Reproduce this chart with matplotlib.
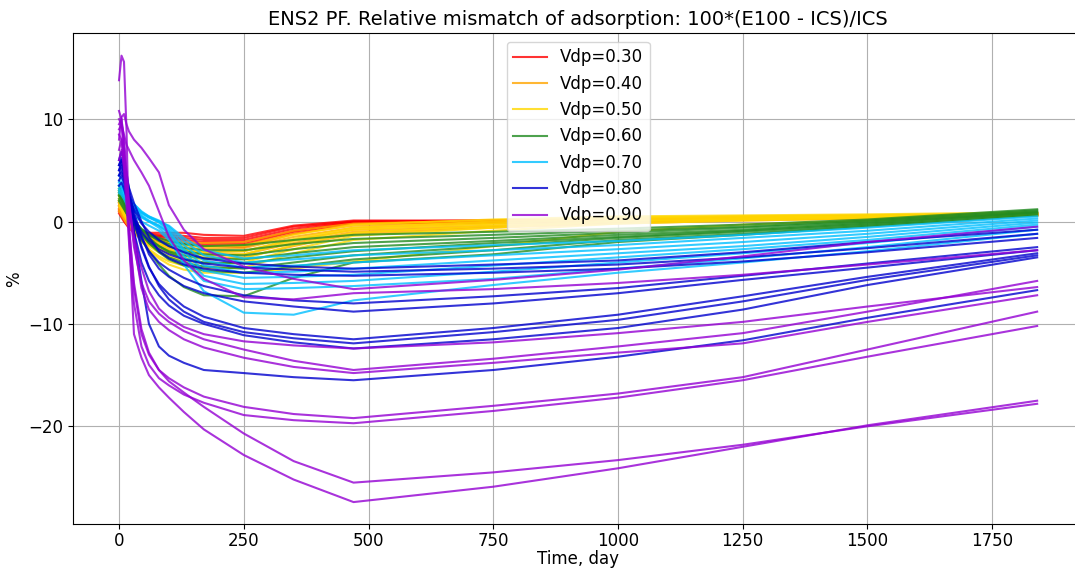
import matplotlib
matplotlib.use("Agg")
import matplotlib.pyplot as plt

# sample days shared by all curves
days = [0, 5, 10, 15, 20, 30, 45, 60, 80, 100, 130, 170, 250, 350, 470, 750, 1000, 1250, 1500, 1840]

vdp_030 = [
    [1.2, 0.7, 0.3, -0.1, -0.4, -0.8, -1.0, -1.1, -1.1, -1.1, -1.1, -1.3, -1.4, -0.4, 0.1, 0.1, 0.2, 0.4, 0.5, 0.8],
    [1.5, 0.9, 0.4, 0.0, -0.3, -0.8, -1.1, -1.2, -1.3, -1.3, -1.4, -1.6, -1.6, -0.5, 0.0, 0.1, 0.2, 0.3, 0.5, 0.8],
    [0.8, 0.4, 0.0, -0.3, -0.6, -1.0, -1.2, -1.3, -1.4, -1.5, -1.6, -1.8, -1.8, -0.7, 0.0, 0.0, 0.1, 0.3, 0.4, 0.7],
    [1.8, 1.1, 0.5, 0.0, -0.4, -0.9, -1.3, -1.4, -1.5, -1.6, -1.8, -2.0, -2.0, -0.9, -0.1, 0.0, 0.1, 0.2, 0.4, 0.7],
    [1.0, 0.6, 0.1, -0.3, -0.6, -1.1, -1.4, -1.6, -1.7, -1.8, -2.0, -2.2, -2.2, -1.0, -0.1, -0.1, 0.0, 0.2, 0.4, 0.6],
    [2.0, 1.2, 0.5, 0.0, -0.4, -1.0, -1.5, -1.7, -1.9, -2.0, -2.2, -2.4, -2.5, -1.2, -0.2, -0.1, 0.0, 0.2, 0.3, 0.6],
]
vdp_040 = [
    [1.5, 1.0, 0.5, 0.1, -0.3, -0.8, -1.3, -1.6, -1.8, -1.9, -2.0, -2.1, -2.0, -0.9, -0.2, 0.1, 0.3, 0.5, 0.6, 0.8],
    [2.0, 1.4, 0.8, 0.3, -0.1, -0.7, -1.3, -1.7, -2.0, -2.1, -2.3, -2.4, -2.3, -1.2, -0.4, -0.1, 0.2, 0.4, 0.5, 0.8],
    [1.0, 0.6, 0.2, -0.2, -0.5, -1.0, -1.5, -1.9, -2.2, -2.4, -2.5, -2.7, -2.6, -1.5, -0.6, -0.2, 0.1, 0.3, 0.5, 0.7],
    [2.5, 1.8, 1.1, 0.5, 0.0, -0.7, -1.4, -1.9, -2.3, -2.6, -2.8, -3.0, -2.9, -1.8, -0.8, -0.4, 0.0, 0.2, 0.4, 0.7],
    [1.8, 1.2, 0.6, 0.1, -0.3, -0.9, -1.6, -2.1, -2.5, -2.8, -3.0, -3.2, -3.2, -2.1, -1.0, -0.5, -0.1, 0.2, 0.4, 0.6],
    [1.2, 0.8, 0.3, -0.1, -0.5, -1.1, -1.8, -2.3, -2.7, -3.0, -3.3, -3.5, -3.5, -2.4, -1.2, -0.6, -0.2, 0.1, 0.3, 0.6],
]
vdp_050 = [
    [2.0, 1.5, 1.0, 0.5, 0.1, -0.5, -1.1, -1.5, -1.9, -2.1, -2.3, -2.5, -2.4, -1.3, -0.3, 0.2, 0.5, 0.6, 0.7, 0.9],
    [2.5, 1.9, 1.3, 0.7, 0.2, -0.5, -1.3, -1.8, -2.2, -2.5, -2.8, -3.0, -2.9, -1.7, -0.6, 0.0, 0.4, 0.5, 0.6, 0.8],
    [1.5, 1.1, 0.6, 0.2, -0.2, -0.8, -1.5, -2.0, -2.5, -2.8, -3.1, -3.3, -3.2, -1.9, -0.8, -0.2, 0.3, 0.4, 0.5, 0.8],
    [3.0, 2.3, 1.6, 1.0, 0.4, -0.4, -1.4, -2.1, -2.7, -3.1, -3.4, -3.7, -3.6, -2.3, -1.1, -0.4, 0.1, 0.3, 0.5, 0.7],
    [1.8, 1.3, 0.8, 0.3, -0.2, -0.9, -1.8, -2.4, -3.0, -3.4, -3.8, -4.1, -4.0, -2.7, -1.4, -0.6, 0.0, 0.2, 0.4, 0.7],
    [2.2, 1.7, 1.1, 0.5, 0.0, -0.8, -1.9, -2.7, -3.4, -3.9, -4.3, -4.6, -4.5, -3.1, -1.8, -0.9, -0.2, 0.1, 0.3, 0.6],
    [2.8, 2.2, 1.5, 0.9, 0.3, -0.6, -1.8, -2.8, -3.6, -4.2, -4.7, -5.0, -5.0, -4.6, -3.9, -2.4, -1.0, -0.3, 0.1, 0.6],
]
vdp_060 = [
    [2.0, 1.6, 1.2, 0.8, 0.4, -0.2, -0.8, -1.2, -1.6, -1.9, -2.2, -2.4, -2.3, -1.8, -1.3, -1.0, -0.7, -0.3, 0.2, 1.2],
    [2.5, 2.1, 1.6, 1.1, 0.6, -0.1, -0.8, -1.3, -1.8, -2.2, -2.6, -2.8, -2.8, -2.2, -1.7, -1.3, -0.9, -0.5, 0.1, 1.1],
    [3.0, 2.5, 2.0, 1.4, 0.9, 0.1, -0.7, -1.3, -1.9, -2.4, -2.9, -3.2, -3.3, -2.7, -2.1, -1.6, -1.1, -0.6, 0.0, 1.0],
    [2.2, 1.8, 1.3, 0.8, 0.3, -0.4, -1.2, -1.8, -2.4, -2.9, -3.3, -3.6, -3.7, -3.1, -2.5, -1.9, -1.3, -0.8, -0.1, 0.9],
    [3.5, 2.9, 2.3, 1.7, 1.1, 0.2, -0.8, -1.6, -2.4, -3.0, -3.6, -4.0, -4.1, -3.5, -2.9, -2.1, -1.5, -0.9, -0.2, 0.9],
    [2.8, 2.3, 1.8, 1.2, 0.6, -0.3, -1.3, -2.1, -2.9, -3.5, -4.0, -4.4, -4.6, -4.0, -3.3, -2.4, -1.6, -1.0, -0.3, 0.8],
    [3.2, 2.7, 2.1, 1.5, 0.9, -0.1, -1.2, -2.1, -3.0, -3.7, -4.3, -4.8, -5.0, -4.4, -3.7, -2.8, -1.8, -1.2, -0.4, 0.7],
    [2.6, 2.2, 1.7, 1.1, 0.5, -0.5, -1.8, -2.9, -4.2, -5.3, -6.4, -7.2, -7.3, -5.5, -4.0, -3.2, -2.0, -1.3, -0.5, 0.6],
]
vdp_070 = [
    [3.0, 2.8, 2.5, 2.1, 1.8, 1.3, 0.8, 0.4, 0.0, -0.4, -1.6, -2.8, -3.6, -3.3, -2.8, -2.3, -1.9, -1.3, -0.6, 0.5],
    [3.5, 3.3, 2.9, 2.5, 2.1, 1.5, 0.9, 0.5, 0.1, -0.5, -1.9, -3.3, -4.0, -3.7, -3.3, -2.8, -2.3, -1.6, -0.9, 0.3],
    [4.0, 3.8, 3.4, 2.9, 2.4, 1.7, 1.0, 0.5, 0.0, -0.7, -2.3, -3.8, -4.5, -4.3, -4.0, -3.3, -2.7, -2.0, -1.2, 0.1],
    [3.2, 3.0, 2.6, 2.1, 1.6, 1.0, 0.4, 0.0, -0.4, -1.0, -2.7, -4.3, -5.0, -4.9, -4.6, -3.8, -3.1, -2.4, -1.5, -0.1],
    [4.5, 4.2, 3.7, 3.1, 2.5, 1.7, 0.9, 0.4, -0.1, -0.9, -3.0, -4.8, -5.5, -5.4, -5.2, -4.3, -3.5, -2.7, -1.8, -0.3],
    [3.8, 3.6, 3.2, 2.6, 2.0, 1.3, 0.6, 0.1, -0.4, -1.2, -3.4, -5.3, -6.1, -6.0, -5.8, -4.9, -4.0, -3.1, -2.1, -0.5],
    [2.8, 2.6, 2.2, 1.7, 1.2, 0.6, 0.0, -0.4, -0.9, -1.8, -3.9, -5.8, -6.6, -6.5, -6.3, -5.6, -4.6, -3.6, -2.5, -0.8],
    [3.5, 3.3, 2.9, 2.4, 1.9, 1.2, 0.5, 0.0, -0.6, -1.6, -4.2, -6.8, -8.9, -9.1, -7.7, -6.2, -5.0, -4.0, -2.9, -1.2],
]
vdp_080 = [
    [4.5, 4.8, 4.2, 3.3, 2.5, 1.2, -0.2, -1.0, -1.8, -2.4, -3.0, -3.6, -4.1, -4.4, -4.6, -4.2, -3.8, -3.0, -2.0, -0.8],
    [3.5, 3.8, 3.2, 2.4, 1.6, 0.4, -1.0, -1.9, -2.7, -3.2, -3.7, -4.1, -4.5, -4.7, -4.9, -4.6, -4.2, -3.5, -2.6, -1.2],
    [5.5, 6.0, 5.3, 4.3, 3.3, 1.8, 0.0, -1.5, -2.9, -3.6, -4.2, -4.6, -5.0, -5.2, -5.3, -5.0, -4.6, -3.9, -3.0, -1.6],
    [4.0, 4.5, 3.8, 2.8, 1.8, 0.3, -1.6, -2.9, -4.0, -4.7, -5.5, -6.3, -7.2, -7.7, -8.0, -7.3, -6.5, -5.3, -4.1, -2.5],
    [5.0, 5.5, 4.8, 3.8, 2.6, 0.9, -1.4, -3.2, -4.6, -5.4, -6.3, -7.0, -7.8, -8.3, -8.8, -8.0, -7.0, -5.7, -4.5, -2.8],
    [5.0, 5.8, 5.0, 3.8, 2.4, 0.0, -2.6, -4.5, -6.1, -7.1, -8.3, -9.3, -10.4, -11.0, -11.5, -10.4, -9.1, -7.3, -5.4, -3.1],
    [6.0, 6.8, 6.0, 4.8, 3.2, 0.5, -2.4, -4.4, -6.3, -7.6, -8.8, -9.8, -10.8, -11.4, -11.9, -10.8, -9.6, -7.8, -5.7, -3.3],
    [4.5, 5.2, 4.4, 3.0, 1.6, -1.0, -4.0, -5.8, -7.2, -8.2, -9.2, -10.0, -11.1, -11.8, -12.4, -11.5, -10.4, -8.6, -6.2, -3.5],
    [5.5, 6.2, 5.2, 3.6, 2.0, -1.0, -5.8, -10.0, -12.2, -13.1, -13.8, -14.5, -14.8, -15.2, -15.5, -14.5, -13.2, -11.6, -9.4, -6.7],
]
vdp_090 = [
    [8.0, 10.2, 10.5, 9.5, 8.8, 8.0, 7.2, 6.2, 4.8, 1.6, -0.8, -2.7, -4.4, -5.6, -6.6, -5.7, -4.7, -3.4, -2.0, -0.5],
    [9.0, 9.5, 8.5, 7.5, 7.0, 6.0, 4.8, 3.5, 1.0, -1.5, -3.8, -5.6, -7.4, -7.6, -7.0, -6.6, -6.0, -5.2, -4.2, -2.8],
    [6.0, 7.0, 5.5, 3.5, 1.5, -1.5, -4.5, -6.8, -8.5, -9.4, -10.3, -11.0, -11.7, -12.1, -12.4, -11.8, -10.9, -9.8, -8.3, -6.4],
    [7.0, 8.0, 6.5, 4.0, 1.5, -2.5, -6.0, -7.8, -9.0, -9.8, -10.7, -11.5, -12.5, -13.6, -14.5, -13.4, -12.2, -10.9, -8.8, -5.8],
    [9.5, 10.0, 8.0, 5.0, 2.0, -2.0, -6.5, -8.6, -9.8, -10.6, -11.5, -12.3, -13.3, -14.2, -14.8, -13.8, -12.8, -11.9, -9.8, -7.2],
    [10.0, 9.5, 6.5, 3.0, -0.5, -6.5, -11.0, -13.0, -14.5, -15.3, -16.2, -17.1, -18.1, -18.8, -19.2, -18.0, -16.8, -15.2, -12.5, -8.8],
    [8.5, 8.0, 5.0, 1.5, -2.0, -8.0, -12.2, -14.0, -15.3, -16.0, -16.9, -17.7, -18.9, -19.4, -19.7, -18.5, -17.2, -15.5, -13.2, -10.2],
    [10.8, 10.0, 7.5, 3.5, -0.5, -6.0, -10.5, -12.8, -14.5, -15.6, -16.7, -18.1, -20.7, -23.4, -25.5, -24.5, -23.3, -21.8, -20.0, -17.8],
    [13.8, 16.2, 15.6, 9.0, -1.3, -11.0, -13.3, -15.0, -16.2, -17.2, -18.6, -20.3, -22.8, -25.2, -27.4, -25.9, -24.1, -22.0, -19.9, -17.5],
]

groups = [
    ("Vdp=0.30", "red", vdp_030),
    ("Vdp=0.40", "orange", vdp_040),
    ("Vdp=0.50", "gold", vdp_050),
    ("Vdp=0.60", "forestgreen", vdp_060),
    ("Vdp=0.70", "deepskyblue", vdp_070),
    ("Vdp=0.80", "mediumblue", vdp_080),
    ("Vdp=0.90", "darkviolet", vdp_090),
]

plt.rcParams["font.size"] = 12
fig = plt.figure(figsize=(10.75, 5.7), dpi=100)
ax = fig.add_axes([0.068, 0.080, 0.9395, 0.8615])

for label, color, runs in groups:
    for i, vals in enumerate(runs):
        ax.plot(days, vals, color=color, lw=1.5, alpha=0.8,
                label=label if i == 0 else None)

ax.tick_params(axis="x", pad=2)
ax.set_xlabel("Time, day", labelpad=0)
ax.set_ylabel("%")
ax.set_title("ENS2 PF. Relative mismatch of adsorption: 100*(E100 - ICS)/ICS", fontsize=14)
ax.set_yticks([-20, -10, 0, 10])
ax.grid(True)
ax.legend(loc="upper center")

fig.savefig("out.png", dpi=100)
